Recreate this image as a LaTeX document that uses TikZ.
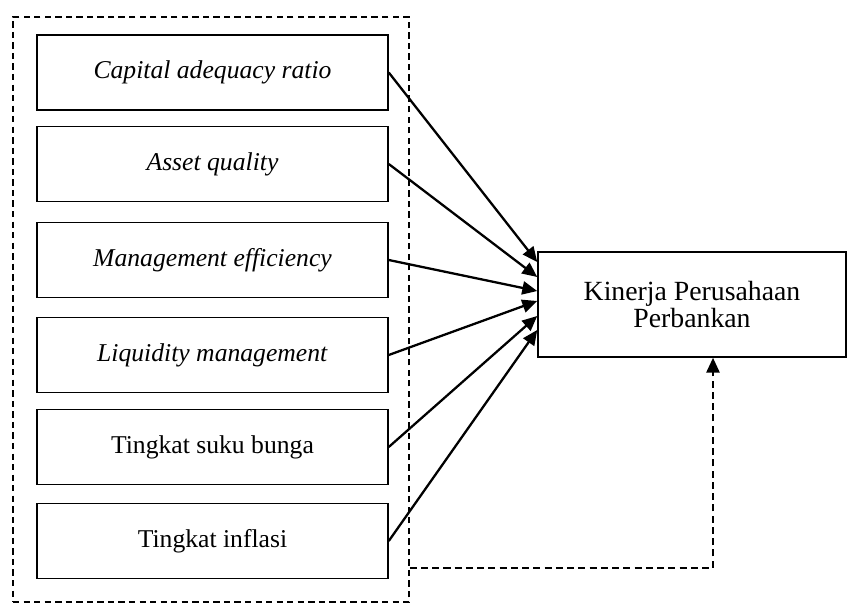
\documentclass[tikz,border=0pt]{standalone}
\usepackage{fontspec}
\setmainfont{Liberation Serif}
\usetikzlibrary{positioning,calc,arrows.meta}

\begin{document}
\begin{tikzpicture}[x=0.02cm, y=-0.02cm]
\useasboundingbox (0,0) rectangle (848,604);

% Styles for boxes and connectors
\tikzset{
  varbox/.style={draw, line width=0.9pt, minimum width=7.02cm, minimum height=1.5cm, inner sep=0pt, font=\fontsize{14.6}{16}\selectfont},
  outbox/.style={draw, line width=0.9pt, minimum width=6.16cm, minimum height=2.1cm, align=center, font=\fontsize{15.8}{15.6}\selectfont},
  frame/.style={draw, line width=0.9pt, dash pattern=on 3.6pt off 2.4pt, minimum width=7.92cm, minimum height=11.7cm, inner sep=0pt},
  link/.style={line width=1.3pt, -{Triangle[length=8.5pt, width=7.5pt]}}
}

% Dashed frame round the variables
\node[frame] (group) at (211,309.5) {};

% Variable boxes on the left
\foreach \i/\y/\txt in {1/72.5/\textit{Capital adequacy ratio}, 2/164/\textit{Asset quality}, 3/260/\textit{Management efficiency}, 4/355/\textit{Liquidity management}, 5/447/Tingkat suku bunga, 6/541/Tingkat inflasi} {
    \node[varbox] (v\i) at (212.5,\y) {\txt};
}

% Dependent variable
\node[outbox] (perf) at (692,304.5) {Kinerja Perusahaan\\Perbankan};

% Arrows from each variable to the dependent variable
\foreach \i/\d in {1/-42.5, 2/-27.5, 3/-13.5, 4/-3.5, 5/11.5, 6/25.5} {
    \draw[link] (v\i.east) -- ($(perf.west)+(0,\d)$);
}

% Joint effect from the whole group
\coordinate (joint) at ($(perf.south)+(21,0)$);
\draw[link, dash pattern=on 4pt off 2.4pt] (group.east) ++(0,258.5) -| (joint);

\end{tikzpicture}
\end{document}
